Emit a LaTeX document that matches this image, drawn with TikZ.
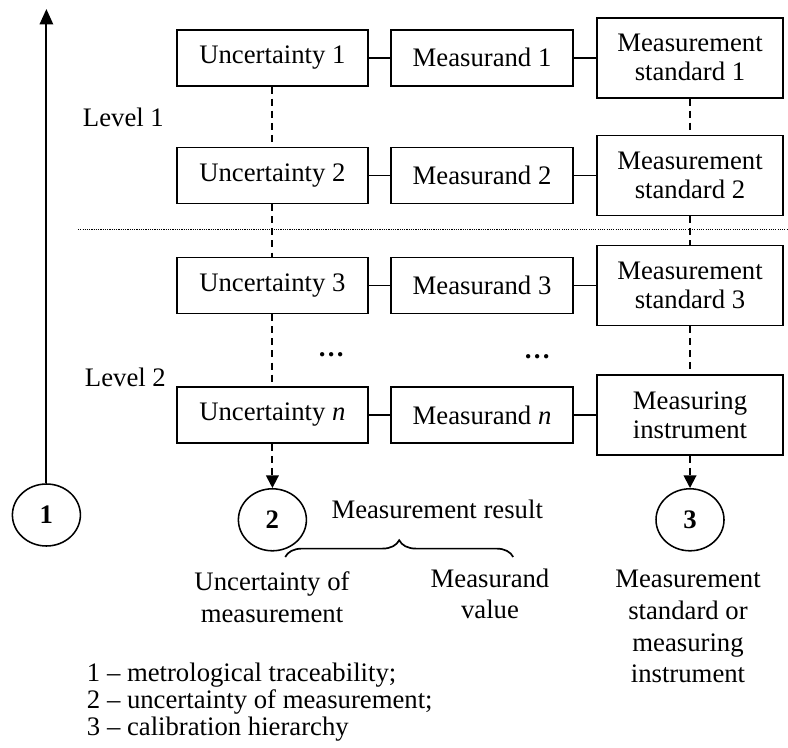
\documentclass[tikz,border=0pt]{standalone}
\usepackage{fontspec}
\setmainfont{Liberation Serif}
\usetikzlibrary{arrows.meta,shapes.geometric,decorations.pathreplacing}

\begin{document}
\begin{tikzpicture}[
    font=\fontsize{19}{20.6}\selectfont,
    box/.style={shape=rectangle,draw=black,line width=1.1pt,align=center,inner sep=0pt,minimum height=1.4cm},
    unc/.style={box,minimum width=4.78cm},
    msd/.style={box,minimum width=4.55cm},
    std/.style={box,minimum width=4.65cm,minimum height=2cm},
    circ/.style={shape=ellipse,draw=black,line width=1.1pt,minimum width=1.7cm,minimum height=1.55cm,inner sep=0pt,font=\fontsize{19}{20}\selectfont\bfseries},
    link/.style={line width=1.1pt},
    dashlink/.style={line width=1.3pt,dash pattern=on 5pt off 3.6pt},
    arrowhd/.style={-{Triangle[length=9pt,width=9pt]}},
    caption/.style={align=center,font=\fontsize{19}{22.5}\selectfont}
]
    \useasboundingbox (0,0) rectangle (19.7,18.675);

    \node[unc] (u1) at (6.81,17.23) {Uncertainty 1};
    \node[unc] (u2) at (6.81,14.29) {Uncertainty 2};
    \node[unc] (u3) at (6.81,11.54) {Uncertainty 3};
    \node[unc] (un) at (6.81,8.30) {Uncertainty \textit{n}};

    \node[msd] (m1) at (12.05,17.23) {Measurand 1};
    \node[msd] (m2) at (12.05,14.29) {Measurand 2};
    \node[msd] (m3) at (12.05,11.54) {Measurand 3};
    \node[msd] (mn) at (12.05,8.30) {Measurand \textit{n}};

    \node[std] (s1) at (17.25,17.23) {Measurement\\standard 1};
    \node[std] (s2) at (17.25,14.29) {Measurement\\standard 2};
    \node[std] (s3) at (17.25,11.54) {Measurement\\standard 3};
    \node[std] (si) at (17.25,8.30) {Measuring\\instrument};

    \node[anchor=west] (lev1) at (1.95,15.73) {Level 1};
    \node[anchor=west] (lev2) at (2.0,9.23) {Level 2};
    \node (du) at (8.28,9.80) {\textbf{\dots}};
    \node (dm) at (13.43,9.75) {\textbf{\dots}};

    \node[circ] (c1) at (1.16,5.80) {1};
    \node[circ] (c2) at (6.81,5.68) {2};
    \node[circ] (c3) at (17.25,5.68) {3};
    \coordinate (top) at (1.16,18.45);

    % rows
    \path [link](u1) edge (m1);
    \path [link](m1) edge (s1);
    \path [link](u2) edge (m2);
    \path [link](m2) edge (s2);
    \path [link](u3) edge (m3);
    \path [link](m3) edge (s3);
    \path [link](un) edge (mn);
    \path [link](mn) edge (si);

    % columns
    \path [dashlink](u1) edge (u2);
    \path [dashlink](u2) edge (u3);
    \path [dashlink](u3) edge (un);
    \path [dashlink,arrowhd](un) edge (c2);
    \path [dashlink](s1) edge (s2);
    \path [dashlink](s2) edge (s3);
    \path [dashlink](s3) edge (si);
    \path [dashlink,arrowhd](si) edge (c3);

    \path [line width=1.5pt,-{Triangle[length=11pt,width=9.5pt]}](c1) edge (top);

    % level border
    \coordinate (dl) at (1.95,12.93);
    \coordinate (dr) at (19.7,12.93);
    \draw[line width=0.9pt,dash pattern=on 0.8pt off 0.8pt] (dl) -- (dr);

    % measurement result
    \node (res) at (10.93,5.93) {Measurement result};
    \coordinate (bl) at (7.13,4.75);
    \coordinate (br) at (12.83,4.75);
    \draw[line width=1.2pt,decorate,decoration={brace,amplitude=0.42cm}] (bl) -- (br);

    \node[caption] (unclbl) at (6.80,3.74) {Uncertainty of\\measurement};
    \node[caption] (vallbl) at (12.25,3.83) {Measurand\\value};
    \node[caption] (stdlbl) at (17.2,3.01) {Measurement\\standard or\\measuring\\instrument};

    \node[anchor=west,align=left,font=\fontsize{19}{19.4}\selectfont] (legend) at (2.05,1.125) {1 -- metrological traceability;\\2 -- uncertainty of measurement;\\3 -- calibration hierarchy};

\end{tikzpicture}
\end{document}
